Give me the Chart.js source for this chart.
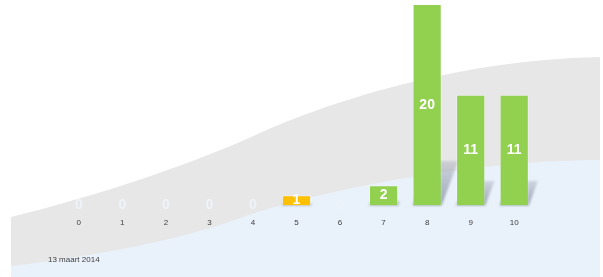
<!DOCTYPE html>
<html>
<head>
<meta charset="utf-8">
<script src="https://cdn.jsdelivr.net/npm/chart.js@4.4.1/dist/chart.umd.min.js"></script>
<style>
  html, body { margin: 0; padding: 0; background: #fff; }
  #wrap { position: relative; width: 603px; height: 277px; overflow: hidden; }
  #date { position: absolute; left: 48px; top: 255px; font: 8px "Liberation Sans", Arial, sans-serif; color: #404040; white-space: nowrap; }
</style>
</head>
<body>
<div id="wrap">
  <canvas id="chart" width="603" height="277"></canvas>
  <div id="date">13 maart 2014</div>
</div>
<script>
// --- data ---
const categories = ['0', '1', '2', '3', '4', '5', '6', '7', '8', '9', '10'];
const counts = [0, 0, 0, 0, 0, 1, 0, 2, 20, 11, 11];
const highlighted = ['5'];   // category drawn in orange

const GREEN = '#92d050';
const ORANGE = '#ffc000';

// wavy grey + light blue backdrop
const backdrop = {
  id: 'backdrop',
  beforeDraw(chart) {
    const c = chart.ctx;
    c.save();
    c.fillStyle = '#e7e7e7';
    c.beginPath();
    c.moveTo(11, 217);
    c.bezierCurveTo(100, 195, 190, 165, 260, 133);
    c.bezierCurveTo(320, 106, 450, 60, 600, 57);
    c.lineTo(600, 277); c.lineTo(11, 277);
    c.closePath(); c.fill();

    c.fillStyle = '#e9f1fa';
    c.beginPath();
    c.moveTo(11, 266);
    c.bezierCurveTo(100, 255, 180, 240, 240, 218);
    c.bezierCurveTo(300, 196, 460, 160, 600, 160);
    c.lineTo(600, 277); c.lineTo(11, 277);
    c.closePath(); c.fill();
    c.restore();
  }
};

// soft slanted shadow behind each bar
const barShadows = {
  id: 'barShadows',
  beforeDatasetsDraw(chart) {
    const c = chart.ctx;
    const meta = chart.getDatasetMeta(0);
    c.save();
    c.filter = 'blur(1.2px)';
    meta.data.forEach((bar, i) => {
      const v = counts[i];
      if (!v) return;
      const L = bar.x - bar.width / 2, R = bar.x + bar.width / 2;
      const h = (bar.base - bar.y) * 0.22;
      const s = h * 0.37;
      const g = c.createLinearGradient(0, bar.base, 0, bar.base - h);
      g.addColorStop(0, 'rgba(140,150,165,0.8)');
      g.addColorStop(1, 'rgba(140,150,165,0.3)');
      c.fillStyle = g;
      c.beginPath();
      c.moveTo(L, bar.base);
      c.lineTo(R, bar.base);
      c.lineTo(R + s, bar.base - h);
      c.lineTo(L + s, bar.base - h);
      c.closePath(); c.fill();
    });
    c.restore();
  }
};

// value labels centred in the bars
const valueLabels = {
  id: 'valueLabels',
  afterDatasetsDraw(chart) {
    const c = chart.ctx;
    const meta = chart.getDatasetMeta(0);
    c.save();
    c.font = 'bold 14px "Liberation Sans", Arial, sans-serif';
    c.textAlign = 'center';
    c.textBaseline = 'middle';
    meta.data.forEach((bar, i) => {
      const v = counts[i];
      if (v == null) return;
      c.fillStyle = v === 0 ? '#eef3fa' : '#ffffff';
      c.fillText(String(v), bar.x, (bar.y + bar.base) / 2);
    });
    c.restore();
  }
};

new Chart(document.getElementById('chart'), {
  type: 'bar',
  data: {
    labels: categories,
    datasets: [{
      data: counts,
      backgroundColor: ctx => highlighted.includes(categories[ctx.dataIndex]) ? ORANGE : GREEN,
      borderColor: 'rgba(255,255,255,0.3)',
      borderWidth: 1,
      barPercentage: 0.67,
      categoryPercentage: 1
    }]
  },
  options: {
    responsive: false,
    animation: false,
    layout: { padding: { left: 57, right: 67, top: 4, bottom: 36 } },
    plugins: { legend: { display: false }, tooltip: { enabled: false } },
    scales: {
      x: {
        grid: { display: false, drawTicks: false },
        border: { display: false },
        ticks: { padding: 13, color: '#404040', font: { family: '"Liberation Sans", Arial, sans-serif', size: 8 } }
      },
      y: { display: false, min: 0, max: 20 }
    }
  },
  plugins: [backdrop, barShadows, valueLabels]
});
</script>
</body>
</html>
